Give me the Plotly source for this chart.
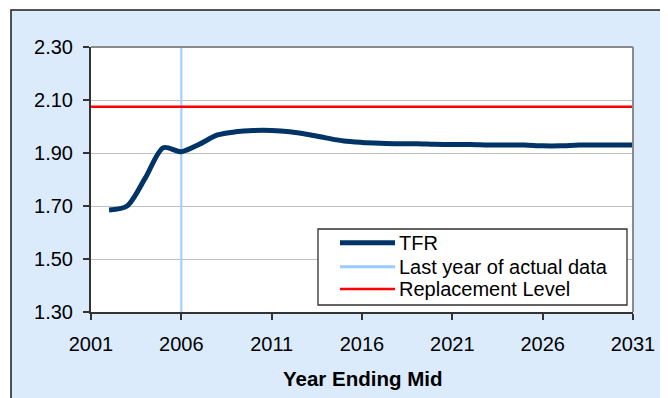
import plotly.graph_objects as go

years = list(range(2002, 2032))
tfr = [1.685, 1.700, 1.805, 1.920, 1.905, 1.933, 1.968, 1.980, 1.985, 1.985,
       1.980, 1.970, 1.957, 1.945, 1.940, 1.937, 1.935, 1.935, 1.933, 1.932,
       1.932, 1.930, 1.930, 1.930, 1.927, 1.927, 1.930, 1.930, 1.930, 1.930]
last_actual_year = 2006
replacement_level = 2.075
x_range = [2001, 2031]
y_range = [1.30, 2.30]
y_ticks = [1.30, 1.50, 1.70, 1.90, 2.10, 2.30]
x_ticks = [2001, 2006, 2011, 2016, 2021, 2026, 2031]
legend_labels = ["TFR", "Last year of actual data", "Replacement Level"]
x_title = "Year Ending Mid"

NAVY = "#003366"
LIGHTBLUE = "#99CCFF"
RED = "#FF0000"
BG = "#DCEBFC"
FONT = "Liberation Sans, Arial, sans-serif"

fig = go.Figure()
fig.add_trace(go.Scatter(x=[last_actual_year, last_actual_year], y=y_range, mode="lines",
                         line=dict(color=LIGHTBLUE, width=2), name=legend_labels[1], showlegend=False))
fig.add_trace(go.Scatter(x=x_range, y=[replacement_level, replacement_level], mode="lines",
                         line=dict(color=RED, width=2.5), name=legend_labels[2], showlegend=False))
fig.add_trace(go.Scatter(x=years, y=tfr, mode="lines",
                         line=dict(color=NAVY, width=5, shape="spline", smoothing=0.8),
                         name=legend_labels[0], showlegend=False))

shapes = []
# outer chart area (light blue with black border)
shapes.append(dict(type="rect", xref="paper", yref="paper", x0=-0.1476, x1=1.0609, y0=-0.6, y1=1.1396,
                   line=dict(color="#1a1a1a", width=1.5), fillcolor=BG, layer="below"))
# plot area white background
shapes.append(dict(type="rect", xref="paper", yref="paper", x0=0, x1=1, y0=0, y1=1,
                   line=dict(width=0), fillcolor="white", layer="below"))
# plot area top / right gray border
shapes.append(dict(type="line", xref="paper", yref="paper", x0=0, x1=1, y0=1, y1=1,
                   line=dict(color="#8a8a8a", width=2)))
shapes.append(dict(type="line", xref="paper", yref="paper", x0=1, x1=1, y0=0, y1=1,
                   line=dict(color="#8a8a8a", width=2)))
# legend box
lx0, lx1, ly0, ly1 = 0.4188, 0.9889, 0.0264, 0.3132
shapes.append(dict(type="rect", xref="paper", yref="paper", x0=lx0, x1=lx1, y0=ly0, y1=ly1,
                   line=dict(color="#303030", width=1.3), fillcolor="white"))
rows = [0.2615, 0.1709, 0.0868]
styles = [(NAVY, 5), (LIGHTBLUE, 3), (RED, 2.5)]
annotations = []
for (c, w), yy, lab in zip(styles, rows, legend_labels):
    shapes.append(dict(type="line", xref="paper", yref="paper", x0=0.4594, x1=0.5609, y0=yy, y1=yy,
                       line=dict(color=c, width=w)))
    annotations.append(dict(xref="paper", yref="paper", x=0.5646, y=yy, text=lab, showarrow=False,
                            xanchor="left", yanchor="middle", font=dict(family=FONT, size=20, color="black")))
annotations.append(dict(xref="paper", yref="paper", x=0.5, y=-0.2528, text="<b>%s</b>" % x_title,
                        showarrow=False, xanchor="center", yanchor="middle",
                        font=dict(family=FONT, size=20.5, color="black")))

fig.update_layout(
    width=660, height=390,
    margin=dict(l=83, r=35, t=39, b=86),
    paper_bgcolor="white",
    plot_bgcolor="white",
    font=dict(family=FONT, size=20, color="black"),
    shapes=shapes,
    annotations=annotations,
    showlegend=False,
    xaxis=dict(range=x_range, tickvals=x_ticks, ticktext=[str(v) for v in x_ticks],
               showgrid=False, zeroline=False, showline=True, linecolor="#333333", linewidth=2,
               ticks="outside", ticklen=6, tickcolor="#333333", tickwidth=1.5,
               ticklabelstandoff=7),
    yaxis=dict(range=y_range, tickvals=y_ticks, ticktext=["%.2f" % v for v in y_ticks],
               showgrid=True, gridcolor="#C0C0C0", gridwidth=1, zeroline=False,
               showline=True, linecolor="#333333", linewidth=2,
               ticks="outside", ticklen=6, tickcolor="#333333", tickwidth=1.5,
               ticklabelstandoff=6),
)

fig.write_html("out.html")
